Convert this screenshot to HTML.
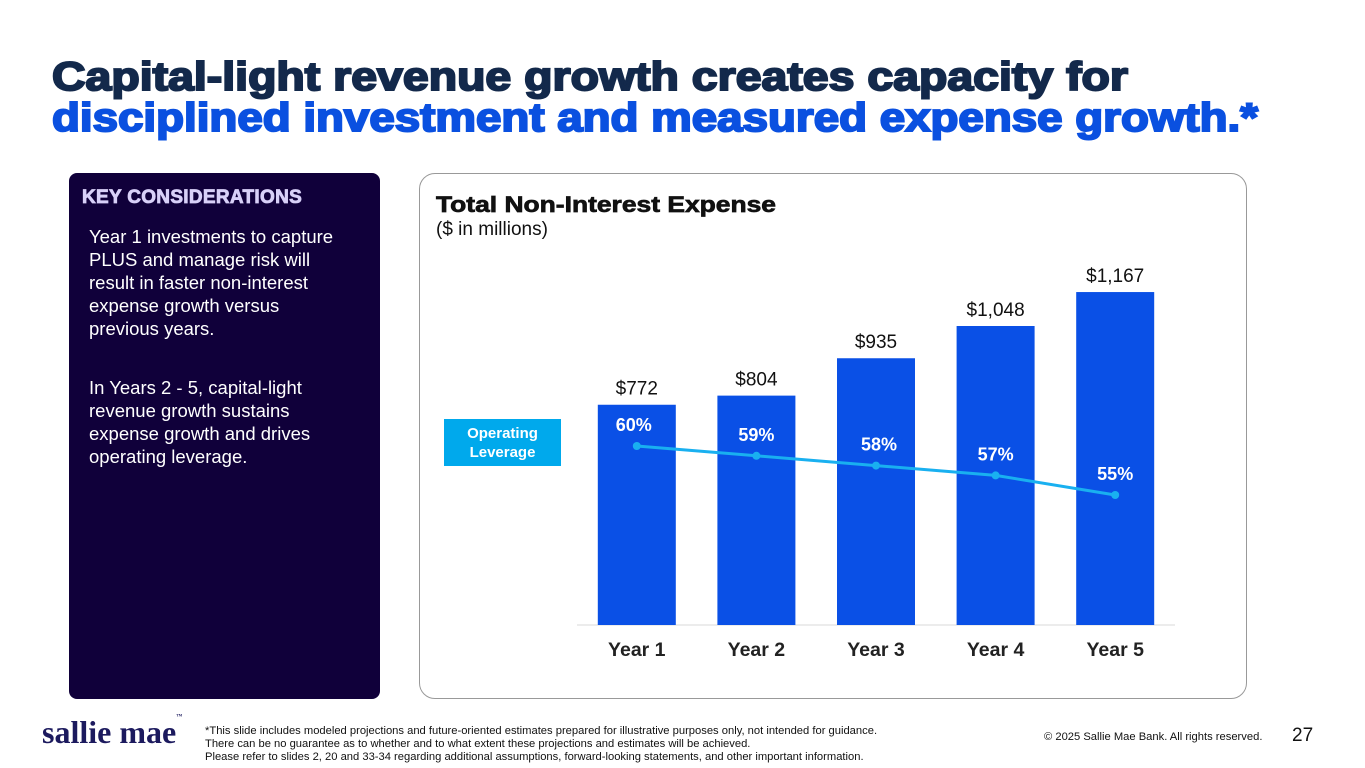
<!DOCTYPE html>
<html><head><meta charset="utf-8">
<style>
*{margin:0;padding:0;box-sizing:border-box}
body{width:1365px;height:768px;background:#fff;font-family:"Liberation Sans",Arial,sans-serif;position:relative;overflow:hidden}
.abs{position:absolute}
#left{left:69px;top:173px;width:311px;height:526px;background:#10003a;border-radius:8px}
#left h3{position:absolute;left:13px;top:14px;font-size:19px;font-weight:bold;color:#d8d0f8;-webkit-text-stroke:0.8px #d8d0f8;letter-spacing:0.3px}
#left p{position:absolute;left:20px;width:255px;color:#fff;font-size:18.5px;line-height:23px}
#chartbox{left:419px;top:173px;width:828px;height:526px;border:1.3px solid #999;border-radius:16px}
.foot{font-size:11.2px;color:#111;line-height:13px}
</style></head><body>
<svg class="abs" style="left:0;top:0" width="1365" height="150">
<text x="52" y="90" font-family="Liberation Sans,Arial,sans-serif" font-weight="bold" font-size="40" fill="#13294b" stroke="#13294b" stroke-width="2" textLength="1076" lengthAdjust="spacingAndGlyphs">Capital-light revenue growth creates capacity for</text>
<text x="52" y="131" font-family="Liberation Sans,Arial,sans-serif" font-weight="bold" font-size="40" fill="#0a50e0" stroke="#0a50e0" stroke-width="2" textLength="1206" lengthAdjust="spacingAndGlyphs">disciplined investment and measured expense growth.*</text>
</svg>
<div id="left" class="abs">
<h3>KEY CONSIDERATIONS</h3>
<p style="top:52px">Year 1 investments to capture PLUS and manage risk will result in faster non-interest expense growth versus previous years.</p>
<p style="top:203px">In Years 2 - 5, capital-light revenue growth sustains expense growth and drives operating leverage.</p>
</div>
<div id="chartbox" class="abs"></div>
<svg class="abs" style="left:0;top:0" width="900" height="250">
<text x="436" y="212" font-family="Liberation Sans,Arial,sans-serif" font-weight="bold" font-size="22" fill="#111" stroke="#111" stroke-width="0.7" textLength="340" lengthAdjust="spacingAndGlyphs">Total Non-Interest Expense</text>
<text x="436" y="235" font-family="Liberation Sans,Arial,sans-serif" font-size="19" fill="#111">($ in millions)</text>
</svg>
<div class="abs" style="left:444px;top:419px;width:117px;height:47px;background:#00a9ec;color:#fff;font-weight:bold;font-size:15px;text-align:center;line-height:19px;padding-top:5px">Operating<br>Leverage</div>
<svg id="chart" class="abs" style="left:0;top:0" width="1365" height="700"></svg>
<div class="abs" style="left:42px;top:714px;font-family:'Liberation Serif',serif;font-weight:bold;font-size:32px;color:#1c1a5e;letter-spacing:0px">sallie mae<span style="font-size:6px;vertical-align:top">™</span></div>
<div class="abs foot" style="left:205px;top:725px">*This slide includes modeled projections and future-oriented estimates prepared for illustrative purposes only, not intended for guidance.<br>There can be no guarantee as to whether and to what extent these projections and estimates will be achieved.<br>Please refer to slides 2, 20 and 33-34 regarding additional assumptions, forward-looking statements, and other important information.</div>
<div class="abs foot" style="left:1044px;top:731px">© 2025 Sallie Mae Bank. All rights reserved.</div>
<div class="abs" style="left:1292px;top:725px;font-size:19px;color:#111">27</div>
<script>
const categories=["Year 1","Year 2","Year 3","Year 4","Year 5"];
const expenseValues=[772,804,935,1048,1167];
const expenseLabels=["$772","$804","$935","$1,048","$1,167"];
const leverageValues=[60,59,58,57,55];
const leverageLabels=["60%","59%","58%","57%","55%"];
const NS="http://www.w3.org/2000/svg";
const svg=document.getElementById('chart');
const base=625,x0=577,step=119.6,bw=78;
function xc(i){return x0+step*(i+0.5);}
function yBar(v){return base-v*0.2853;}
function yLine(v){return 446+(60-v)*9.8;}
function mk(t,a){const e=document.createElementNS(NS,t);for(const k in a)e.setAttribute(k,a[k]);svg.appendChild(e);return e;}
let ax=mk('line',{x1:577,x2:1175,y1:base,y2:base,stroke:'#d9d9d9','stroke-width':1});


categories.forEach((c,i)=>{
  const top=yBar(expenseValues[i]);
  let r=mk('rect',{x:xc(i)-bw/2,y:top,width:bw,height:base-top,fill:'#0a50e6'});
  
  
  let t=mk('text',{x:xc(i),y:top-10,'text-anchor':'middle','font-size':19,fill:'#111','font-family':'Liberation Sans,Arial,sans-serif'});
  t.textContent=expenseLabels[i];
  
  
  let l=mk('text',{x:xc(i),y:656,'text-anchor':'middle','font-size':19.5,'font-weight':'bold',fill:'#222','font-family':'Liberation Sans,Arial,sans-serif'});
  l.textContent=c;
  
  
});
let pts=leverageValues.map((v,i)=>xc(i)+','+yLine(v)).join(' ');
let pl=mk('polyline',{points:pts,fill:'none',stroke:'#19b0f0','stroke-width':3});


leverageValues.forEach((v,i)=>{
  let c=mk('circle',{cx:xc(i),cy:yLine(v),r:4,fill:'#19b0f0'});
  
  
  let t=mk('text',{x:xc(i)+(i==0?-3:i==2?3:0),y:yLine(v)-15,'text-anchor':'middle','font-size':18,'font-weight':'bold',fill:'#fff','font-family':'Liberation Sans,Arial,sans-serif'});
  t.textContent=leverageLabels[i];
  
  
});
</script>
</body></html>
